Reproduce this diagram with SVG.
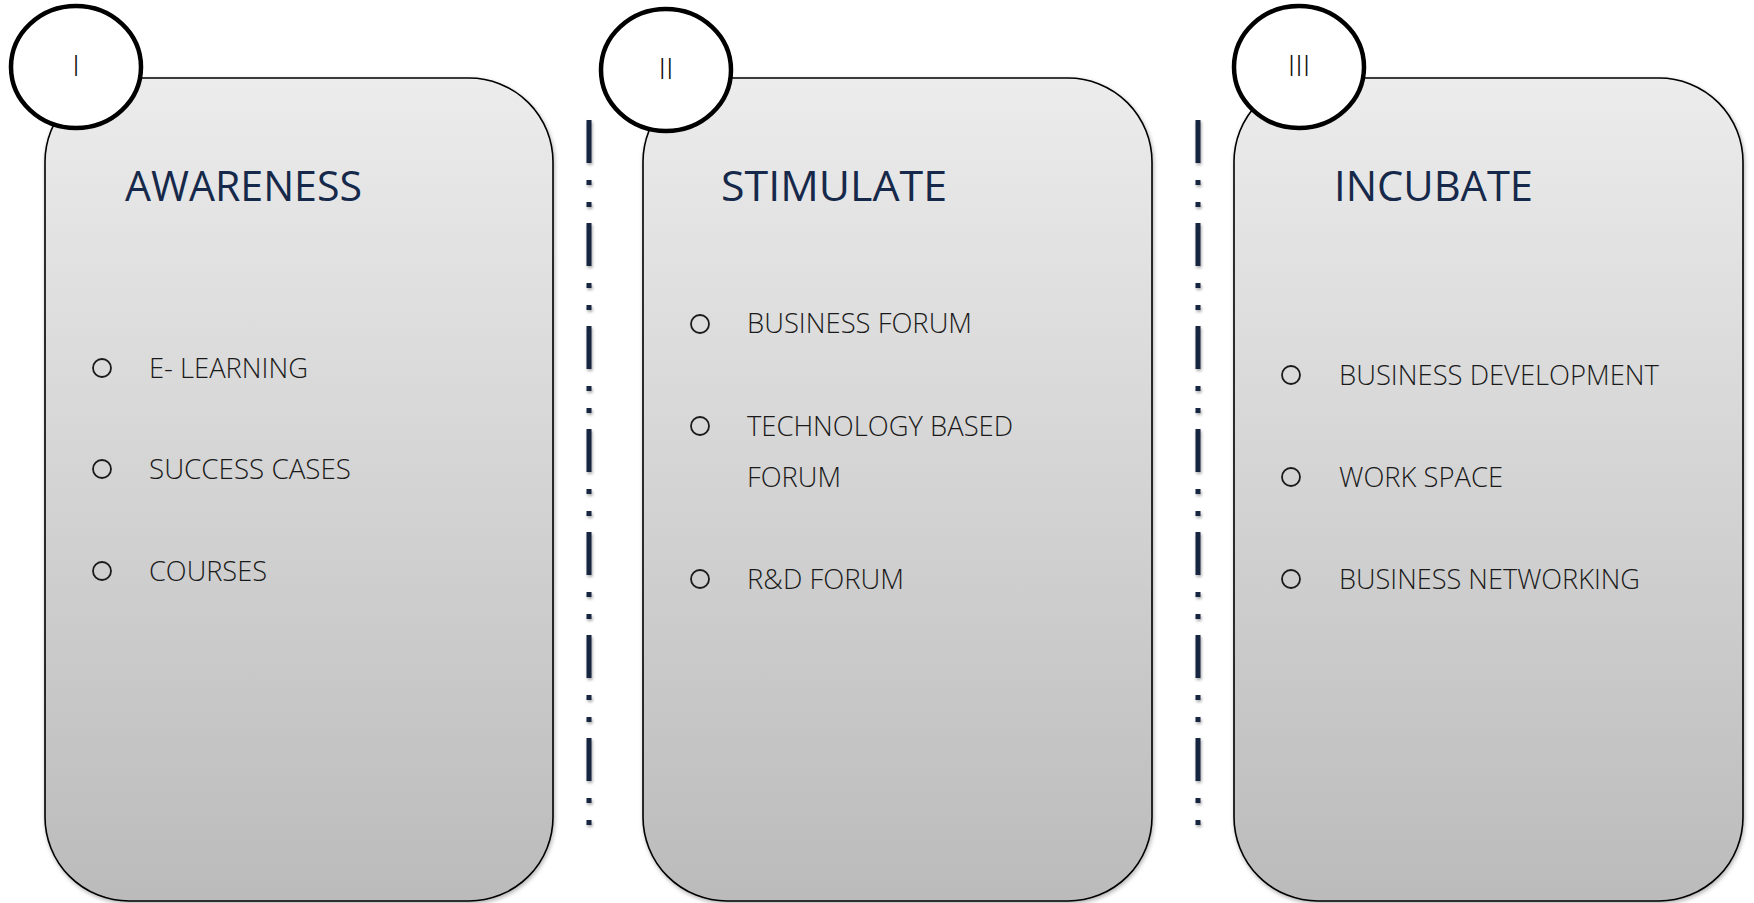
<svg xmlns="http://www.w3.org/2000/svg" width="1754" height="903" viewBox="0 0 1754 903">
<defs>
<linearGradient id="boxGrad" x1="0" y1="0" x2="0" y2="1">
<stop offset="0" stop-color="#ececec"/>
<stop offset="1" stop-color="#bbbbbb"/>
</linearGradient>
<filter id="shadow" x="-10%" y="-10%" width="120%" height="120%">
<feDropShadow dx="1" dy="2" stdDeviation="2" flood-color="#000" flood-opacity="0.3"/>
</filter>
<filter id="lshadow" filterUnits="userSpaceOnUse" x="0" y="0" width="1754" height="903">
<feDropShadow dx="1" dy="2" stdDeviation="1.5" flood-color="#000" flood-opacity="0.35"/>
</filter>
</defs>
<style>
.box{fill:url(#boxGrad);stroke:#000;stroke-width:1.6;filter:url(#shadow)}
.badge{fill:#fff;stroke:#000;stroke-width:4.5}
.num{font-family:"Open Sans","Liberation Sans",sans-serif;font-weight:300;font-size:30px;fill:#111;text-anchor:middle}
.title{font-family:"Open Sans","Liberation Sans",sans-serif;font-size:42px;fill:#16294a}
.item{font-family:"Open Sans","Liberation Sans",sans-serif;font-weight:300;font-size:28px;fill:#1a1a1a}
.bullet{fill:none;stroke:#1a1a1a;stroke-width:1.8}
.divider{stroke:#13263f;stroke-width:5;fill:none;stroke-dasharray:43 17 5 17 5 16}
</style>
<rect width="1754" height="903" fill="#fff"/>
<g id="connectors" filter="url(#lshadow)">
<line class="divider" x1="589" y1="120" x2="589" y2="829"/>
<line class="divider" x1="1198" y1="120" x2="1198" y2="829"/>
</g>
<g id="node-awareness">
<rect class="box" x="45" y="78" width="508" height="823" rx="84" ry="84"/>
<ellipse class="badge" cx="76" cy="67" rx="65" ry="61"/>
<text class="num" x="76" y="76">I</text>
<text class="title" x="125" y="201" textLength="237" lengthAdjust="spacingAndGlyphs">AWARENESS</text>
<circle class="bullet" cx="102" cy="368" r="9"/>
<text class="item" x="149" y="378" textLength="159" lengthAdjust="spacingAndGlyphs">E- LEARNING</text>
<circle class="bullet" cx="102" cy="469" r="9"/>
<text class="item" x="149" y="479" textLength="202" lengthAdjust="spacingAndGlyphs">SUCCESS CASES</text>
<circle class="bullet" cx="102" cy="571" r="9"/>
<text class="item" x="149" y="581" textLength="118" lengthAdjust="spacingAndGlyphs">COURSES</text>
</g>
<g id="node-stimulate">
<rect class="box" x="643" y="78" width="509" height="823" rx="84" ry="84"/>
<ellipse class="badge" cx="666" cy="70" rx="65" ry="61"/>
<text class="num" x="666" y="79">II</text>
<text class="title" x="721" y="201" textLength="226" lengthAdjust="spacingAndGlyphs">STIMULATE</text>
<circle class="bullet" cx="700" cy="324" r="9"/>
<text class="item" x="747" y="333" textLength="225" lengthAdjust="spacingAndGlyphs">BUSINESS FORUM</text>
<circle class="bullet" cx="700" cy="426" r="9"/>
<text class="item" x="747" y="436" textLength="266" lengthAdjust="spacingAndGlyphs">TECHNOLOGY BASED</text>
<text class="item" x="747" y="487" textLength="94" lengthAdjust="spacingAndGlyphs">FORUM</text>
<circle class="bullet" cx="700" cy="579" r="9"/>
<text class="item" x="747" y="589" textLength="157" lengthAdjust="spacingAndGlyphs">R&amp;D FORUM</text>
</g>
<g id="node-incubate">
<rect class="box" x="1234" y="78" width="509" height="823" rx="84" ry="84"/>
<ellipse class="badge" cx="1299" cy="67" rx="65" ry="61"/>
<text class="num" x="1299" y="76">III</text>
<text class="title" x="1334" y="201" textLength="199" lengthAdjust="spacingAndGlyphs">INCUBATE</text>
<circle class="bullet" cx="1291" cy="375" r="9"/>
<text class="item" x="1339" y="385" textLength="320" lengthAdjust="spacingAndGlyphs">BUSINESS DEVELOPMENT</text>
<circle class="bullet" cx="1291" cy="477" r="9"/>
<text class="item" x="1339" y="487" textLength="164" lengthAdjust="spacingAndGlyphs">WORK SPACE</text>
<circle class="bullet" cx="1291" cy="579" r="9"/>
<text class="item" x="1339" y="589" textLength="301" lengthAdjust="spacingAndGlyphs">BUSINESS NETWORKING</text>
</g>
</svg>
